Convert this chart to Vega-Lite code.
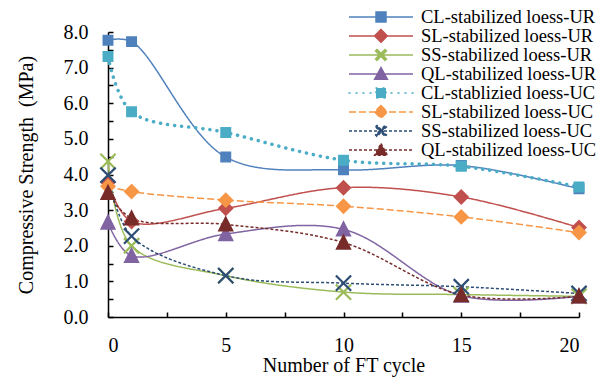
{
  "$schema": "https://vega.github.io/schema/vega-lite/v6.json",
  "width": 471,
  "height": 285,
  "autosize": {"type": "none"},
  "padding": {"left": 108, "top": 32, "right": 25, "bottom": 62},
  "background": "white",
  "config": {
    "view": {"stroke": null},
    "font": "Liberation Serif",
    "axis": {
      "domainColor": "black", "domainWidth": 1.5, "tickColor": "black", "tickWidth": 1.5,
      "tickSize": -5, "grid": false, "labelFont": "Liberation Serif", "labelFontSize": 20,
      "labelColor": "black", "titleFont": "Liberation Serif", "titleFontSize": 20,
      "titleFontWeight": "normal", "titleColor": "black"
    }
  },
  "data": {"values": [
    {"series": "CL-stabilized loess-UR", "n": 0, "s": 7.77},
    {"series": "CL-stabilized loess-UR", "n": 1, "s": 7.73},
    {"series": "CL-stabilized loess-UR", "n": 5, "s": 4.49},
    {"series": "CL-stabilized loess-UR", "n": 10, "s": 4.13},
    {"series": "CL-stabilized loess-UR", "n": 15, "s": 4.25},
    {"series": "CL-stabilized loess-UR", "n": 20, "s": 3.60},
    {"series": "SL-stabilized loess-UR", "n": 0, "s": 3.78},
    {"series": "SL-stabilized loess-UR", "n": 1, "s": 2.68},
    {"series": "SL-stabilized loess-UR", "n": 5, "s": 3.05},
    {"series": "SL-stabilized loess-UR", "n": 10, "s": 3.63},
    {"series": "SL-stabilized loess-UR", "n": 15, "s": 3.37},
    {"series": "SL-stabilized loess-UR", "n": 20, "s": 2.51},
    {"series": "SS-stabilized loess-UR", "n": 0, "s": 4.37},
    {"series": "SS-stabilized loess-UR", "n": 1, "s": 2.00},
    {"series": "SS-stabilized loess-UR", "n": 5, "s": 1.16},
    {"series": "SS-stabilized loess-UR", "n": 10, "s": 0.70},
    {"series": "SS-stabilized loess-UR", "n": 15, "s": 0.63},
    {"series": "SS-stabilized loess-UR", "n": 20, "s": 0.58},
    {"series": "QL-stabilized loess-UR", "n": 0, "s": 2.65},
    {"series": "QL-stabilized loess-UR", "n": 1, "s": 1.72},
    {"series": "QL-stabilized loess-UR", "n": 5, "s": 2.33},
    {"series": "QL-stabilized loess-UR", "n": 10, "s": 2.46},
    {"series": "QL-stabilized loess-UR", "n": 15, "s": 0.60},
    {"series": "QL-stabilized loess-UR", "n": 20, "s": 0.58},
    {"series": "CL-stablizied loess-UC", "n": 0, "s": 7.31},
    {"series": "CL-stablizied loess-UC", "n": 1, "s": 5.76},
    {"series": "CL-stablizied loess-UC", "n": 5, "s": 5.18},
    {"series": "CL-stablizied loess-UC", "n": 10, "s": 4.40},
    {"series": "CL-stablizied loess-UC", "n": 15, "s": 4.23},
    {"series": "CL-stablizied loess-UC", "n": 20, "s": 3.65},
    {"series": "SL-stabilized loess-UC", "n": 0, "s": 3.67},
    {"series": "SL-stabilized loess-UC", "n": 1, "s": 3.52},
    {"series": "SL-stabilized loess-UC", "n": 5, "s": 3.28},
    {"series": "SL-stabilized loess-UC", "n": 10, "s": 3.11},
    {"series": "SL-stabilized loess-UC", "n": 15, "s": 2.81},
    {"series": "SL-stabilized loess-UC", "n": 20, "s": 2.37},
    {"series": "SS-stabilized loess-UC", "n": 0, "s": 3.98},
    {"series": "SS-stabilized loess-UC", "n": 1, "s": 2.27},
    {"series": "SS-stabilized loess-UC", "n": 5, "s": 1.16},
    {"series": "SS-stabilized loess-UC", "n": 10, "s": 0.95},
    {"series": "SS-stabilized loess-UC", "n": 15, "s": 0.85},
    {"series": "SS-stabilized loess-UC", "n": 20, "s": 0.66},
    {"series": "QL-stabilized loess-UC", "n": 0, "s": 3.49},
    {"series": "QL-stabilized loess-UC", "n": 1, "s": 2.77},
    {"series": "QL-stabilized loess-UC", "n": 5, "s": 2.60},
    {"series": "QL-stabilized loess-UC", "n": 10, "s": 2.09},
    {"series": "QL-stabilized loess-UC", "n": 15, "s": 0.62},
    {"series": "QL-stabilized loess-UC", "n": 20, "s": 0.58}
  ]},
  "encoding": {
    "x": {"field": "n", "type": "quantitative",
      "scale": {"domain": [0, 20], "nice": false},
      "axis": {"title": "Number of FT cycle", "values": [0, 2.5, 5, 7.5, 10, 12.5, 15, 17.5, 20],
        "labelExpr": "datum.value % 5 === 0 ? datum.label : ''", "labelPadding": 23, "titlePadding": 0}},
    "y": {"field": "s", "type": "quantitative",
      "scale": {"domain": [0, 8], "nice": false},
      "axis": {"title": "Compressive Strength\u2002(MPa)", "values": [0, 0.5, 1, 1.5, 2, 2.5, 3, 3.5, 4, 4.5, 5, 5.5, 6, 6.5, 7, 7.5, 8],
        "labelExpr": "datum.value % 1 === 0 ? format(datum.value, '.1f') : ''", "labelPadding": 25, "titlePadding": 27}}
  },
  "layer": [
    {
      "transform": [{"filter": "datum.series !== 'CL-stablizied loess-UC'"}],
      "mark": {"type": "line", "interpolate": "catmull-rom", "strokeWidth": 1.5},
      "encoding": {
        "color": {"field": "series", "type": "nominal",
          "scale": {"domain": ["CL-stabilized loess-UR", "SL-stabilized loess-UR", "SS-stabilized loess-UR", "QL-stabilized loess-UR", "CL-stablizied loess-UC", "SL-stabilized loess-UC", "SS-stabilized loess-UC", "QL-stabilized loess-UC"],
            "range": ["#4F81BD", "#C0504D", "#9BBB59", "#8064A2", "#4BACC6", "#F79646", "#2C4D75", "#772C2A"]},
          "legend": {
            "title": null, "orient": "none", "legendX": 240, "legendY": -24, "direction": "vertical",
            "padding": 0, "rowPadding": -1.95, "clipHeight": 17.8, "symbolSize": 4096, "symbolStrokeWidth": 1.5, "labelOffset": 7,
            "labelFont": "Liberation Serif", "labelFontSize": 18.5, "labelColor": "black", "labelLimit": 0,
            "encode": {"symbols": {"update": {
              "shape": {"signal": "['M-1,0H1M-0.156,-0.156H0.156V0.156H-0.156Z','M-1,0H1M0,-0.2L0.2,0L0,0.2L-0.2,0Z','M-1,0H1M-0.17,-0.125L-0.125,-0.17L0,-0.045L0.125,-0.17L0.17,-0.125L0.045,0L0.17,0.125L0.125,0.17L0,0.045L-0.125,0.17L-0.17,0.125L-0.045,0Z','M-1,0H1M0,-0.2L0.2,0.17L-0.2,0.17Z','M-1,0H1M-0.156,-0.156H0.156V0.156H-0.156Z','M-1,0H1M0,-0.2L0.2,0L0,0.2L-0.2,0Z','M-1,0H1M-0.17,-0.125L-0.125,-0.17L0,-0.045L0.125,-0.17L0.17,-0.125L0.045,0L0.17,0.125L0.125,0.17L0,0.045L-0.125,0.17L-0.17,0.125L-0.045,0Z','M-1,0H1M0,-0.2L0.2,0.17L-0.2,0.17Z'][datum.index]"},
              "fill": {"signal": "scale('color', datum.value)"},
              "stroke": {"signal": "scale('color', datum.value)"},
              "strokeDash": {"signal": "[[1,0],[1,0],[1,0],[1,0],[0.1,4.5],[6,3],[3,2],[3,2]][datum.index]"},
              "strokeCap": {"signal": "datum.index === 4 ? 'round' : 'butt'"},
              "opacity": {"value": 1}
            }}}
          }},
        "strokeDash": {"field": "series", "type": "nominal", "legend": null,
          "scale": {"domain": ["CL-stabilized loess-UR", "SL-stabilized loess-UR", "SS-stabilized loess-UR", "QL-stabilized loess-UR", "CL-stablizied loess-UC", "SL-stabilized loess-UC", "SS-stabilized loess-UC", "QL-stabilized loess-UC"],
            "range": [[1, 0], [1, 0], [1, 0], [1, 0], [1, 6], [7, 3], [3, 2], [3, 2]]}}
      }
    },
    {
      "transform": [{"filter": "datum.series === 'CL-stablizied loess-UC'"}],
      "mark": {"type": "line", "interpolate": "catmull-rom", "strokeWidth": 3.5, "strokeCap": "round", "strokeDash": [0.1, 7]},
      "encoding": {
        "color": {"field": "series", "type": "nominal"}
      }
    },
    {
      "transform": [{"filter": "indexof(['CL-stabilized loess-UR','CL-stablizied loess-UC'], datum.series) >= 0"}],
      "mark": {"type": "point", "strokeWidth": 2, "opacity": 1, "size": 256, "shape": "M-0.56,-0.56H0.56V0.56H-0.56Z"},
      "encoding": {
        "fill": {"field": "series", "type": "nominal", "legend": null, "scale": {"domain": ["CL-stabilized loess-UR", "SL-stabilized loess-UR", "SS-stabilized loess-UR", "QL-stabilized loess-UR", "CL-stablizied loess-UC", "SL-stabilized loess-UC", "SS-stabilized loess-UC", "QL-stabilized loess-UC"], "range": ["#4F81BD", "#C0504D", "#9BBB59", "#8064A2", "#4BACC6", "#F79646", "#2C4D75", "#772C2A"]}},
        "stroke": {"field": "series", "type": "nominal", "legend": null, "scale": {"domain": ["CL-stabilized loess-UR", "SL-stabilized loess-UR", "SS-stabilized loess-UR", "QL-stabilized loess-UR", "CL-stablizied loess-UC", "SL-stabilized loess-UC", "SS-stabilized loess-UC", "QL-stabilized loess-UC"], "range": ["#4F81BD", "#C0504D", "#9BBB59", "#8064A2", "#4BACC6", "#F79646", "#2C4D75", "#772C2A"]}}
      }
    },
    {
      "transform": [{"filter": "indexof(['SL-stabilized loess-UR','SL-stabilized loess-UC'], datum.series) >= 0"}],
      "mark": {"type": "point", "strokeWidth": 2, "opacity": 1, "size": 256, "shape": "M0,-0.82L0.82,0L0,0.82L-0.82,0Z"},
      "encoding": {
        "fill": {"field": "series", "type": "nominal", "legend": null},
        "stroke": {"field": "series", "type": "nominal", "legend": null}
      }
    },
    {
      "transform": [{"filter": "indexof(['SS-stabilized loess-UR','SS-stabilized loess-UC'], datum.series) >= 0"}],
      "mark": {"type": "point", "strokeWidth": 2.2, "opacity": 1, "size": 256, "shape": "M-0.95,-0.95L0.95,0.95M-0.95,0.95L0.95,-0.95"},
      "encoding": {
        "fill": {"field": "series", "type": "nominal", "legend": null},
        "stroke": {"field": "series", "type": "nominal", "legend": null}
      }
    },
    {
      "transform": [{"filter": "indexof(['QL-stabilized loess-UR','QL-stabilized loess-UC'], datum.series) >= 0"}],
      "mark": {"type": "point", "strokeWidth": 2, "opacity": 1, "size": 256, "shape": "M0,-0.85L0.82,0.78L-0.82,0.78Z"},
      "encoding": {
        "fill": {"field": "series", "type": "nominal", "legend": null},
        "stroke": {"field": "series", "type": "nominal", "legend": null}
      }
    }
  ]
}
